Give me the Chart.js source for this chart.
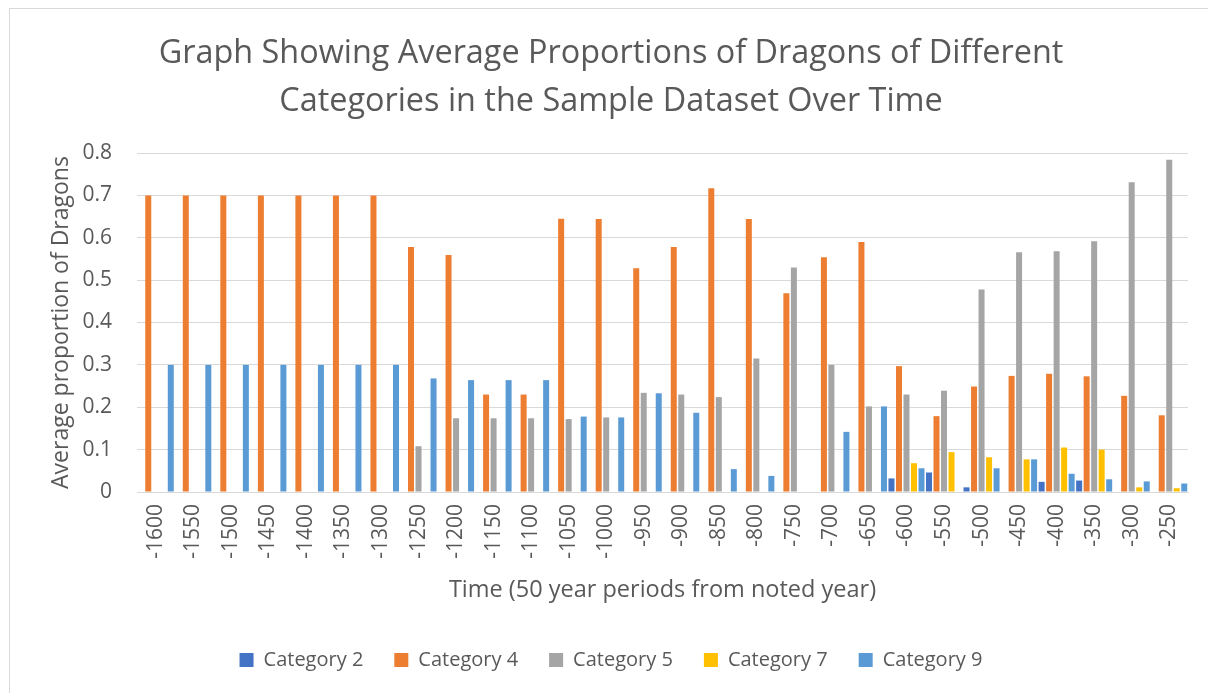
<!DOCTYPE html>
<html>
<head>
<meta charset="utf-8">
<script src="https://cdn.jsdelivr.net/npm/chart.js@4.4.1/dist/chart.umd.min.js"></script>
<style>
  html, body { margin: 0; padding: 0; background: #ffffff; }
  #wrap { position: relative; width: 1208px; height: 693px; overflow: hidden; }
  #frame { position: absolute; left: 9px; top: 8px; width: 1300px; height: 800px;
           border-left: 1px solid #d9d9d9; border-top: 1px solid #d9d9d9; }
  canvas { position: absolute; left: 0; top: 0; }
</style>
</head>
<body>
<div id="wrap">
  <div id="frame"></div>
  <canvas id="c" width="1208" height="693"></canvas>
</div>
<script>
const categories = ['-1600','-1550','-1500','-1450','-1400','-1350','-1300','-1250','-1200','-1150',
  '-1100','-1050','-1000','-950','-900','-850','-800','-750','-700','-650',
  '-600','-550','-500','-450','-400','-350','-300','-250'];

const category2 = [0,0,0,0,0,0,0,0,0,0,
  0,0,0,0,0,0,0,0,0,0,
  0.032,0.046,0.011,0,0.024,0.027,0,0];

const category4 = [0.7,0.7,0.7,0.7,0.7,0.7,0.7,0.578,0.559,0.23,
  0.23,0.645,0.644,0.528,0.578,0.717,0.644,0.469,0.554,0.59,
  0.297,0.179,0.249,0.274,0.279,0.273,0.227,0.181];

const category5 = [0,0,0,0,0,0,0,0.108,0.174,0.174,
  0.174,0.172,0.176,0.234,0.23,0.224,0.315,0.53,0.3,0.202,
  0.23,0.239,0.478,0.566,0.568,0.592,0.731,0.784];

const category7 = [0,0,0,0,0,0,0,0,0,0,
  0,0,0,0,0,0,0,0,0,0,
  0.068,0.094,0.082,0.077,0.105,0.1,0.011,0.009];

const category9 = [0.3,0.3,0.3,0.3,0.3,0.3,0.3,0.268,0.264,0.264,
  0.264,0.178,0.176,0.233,0.187,0.054,0.038,0,0.142,0.202,
  0.056,0,0.056,0.077,0.043,0.03,0.025,0.02];

const yTicks = [0, 0.1, 0.2, 0.3, 0.4, 0.5, 0.6, 0.7, 0.8];

const FONT = "'Open Sans', 'Noto Sans', sans-serif";
const TXT = '#595959';

function ds(label, data, color) {
  return { label, data, backgroundColor: color, borderWidth: 0,
           categoryPercentage: 1.0, barPercentage: 0.8, yAxisID: 'y' };
}

new Chart(document.getElementById('c'), {
  type: 'bar',
  data: {
    labels: categories,
    datasets: [
      ds('Category 2', category2, '#4472C4'),
      ds('Category 4', category4, '#ED7D31'),
      ds('Category 5', category5, '#A5A5A5'),
      ds('Category 7', category7, '#FFC000'),
      ds('Category 9', category9, '#5B9BD5')
    ]
  },
  options: {
    responsive: false,
    animation: false,
    devicePixelRatio: 1,
    layout: { padding: { left: 16, right: 2, top: 0, bottom: 13 } },
    plugins: {
      title: {
        display: true,
        text: ['Graph Showing Average Proportions of Dragons of Different',
               'Categories in the Sample Dataset Over Time'],
        color: TXT,
        font: { family: FONT, size: 32.4, weight: 'normal', lineHeight: 48 / 32.4 },
        padding: { top: 30, bottom: 27 }
      },
      legend: {
        position: 'bottom',
        labels: {
          color: TXT,
          font: { family: FONT, size: 20 },
          boxWidth: 14, boxHeight: 14,
          padding: 31
        }
      },
      tooltip: { enabled: false }
    },
    scales: {
      x: {
        grid: { display: false, drawTicks: false },
        border: { display: true, color: '#d9d9d9', width: 1 },
        ticks: {
          color: TXT, font: { family: FONT, size: 21 },
          minRotation: 90, maxRotation: 90, padding: 12, autoSkip: false
        },
        title: {
          display: true, text: 'Time (50 year periods from noted year)',
          color: TXT, font: { family: FONT, size: 23.5 },
          padding: { top: 4, bottom: 15 }
        },
        afterFit(scale) { scale.height = 127; }
      },
      y: {
        position: 'left',
        min: 0, max: 0.8,
        afterBuildTicks(scale) { scale.ticks = yTicks.map(v => ({ value: v })); },
        grid: { color: '#d9d9d9', lineWidth: 1, drawTicks: false },
        border: { display: false },
        ticks: {
          color: TXT, font: { family: FONT, size: 21 }, padding: 25,
          callback: (v) => String(Math.round(v * 10) / 10)
        },
        title: {
          display: true, text: 'Average proportion of Dragons',
          color: TXT, font: { family: FONT, size: 23 },
          padding: { top: 32, bottom: 0 }
        },
        afterFit(scale) { scale.width = 121; }
      },
      yRightSpace: {
        position: 'right',
        display: true,
        grid: { display: false, drawTicks: false },
        border: { display: false },
        ticks: { display: false },
        afterFit(scale) { scale.width = 18; }
      }
    }
  }
});
</script>
</body>
</html>
